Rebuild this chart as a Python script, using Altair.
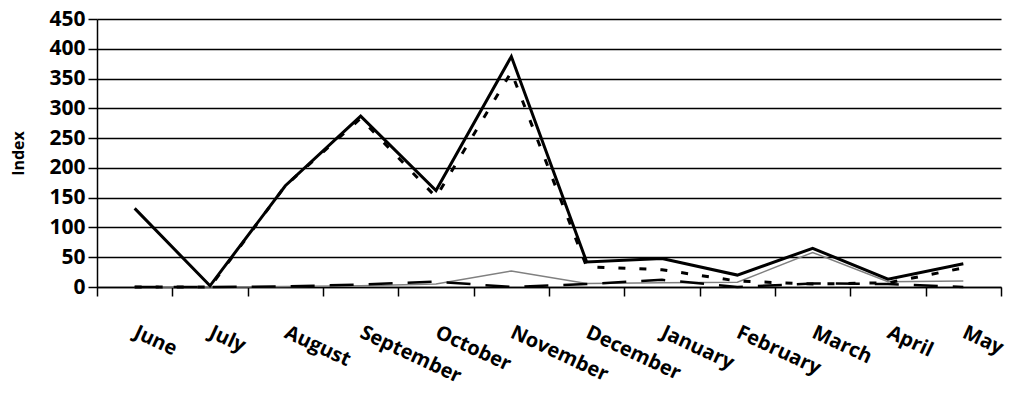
import altair as alt
import pandas as pd

months = ["June", "July", "August", "September", "October", "November",
          "December", "January", "February", "March", "April", "May"]

solid_vals = [132, 2, 170, 287, 162, 387, 42, 48, 20, 65, 13, 39]
dotted_vals = [0, 0, 170, 283, 151, 361, 34, 29, 10, 5, 7, 32]
gray_vals = [0, 0, 1, 2, 5, 27, 6, 7, 8, 58, 9, 10]
longdash_vals = [0, 0, 1, 4, 9, 0, 5, 12, 0, 6, 5, 0]

y_ticks = list(range(0, 451, 50))

FONT = "Open Sans"


def x_enc():
    return alt.X(
        "Month:N",
        sort=months,
        bandPosition=0.5,
        scale=alt.Scale(type="band", paddingInner=0, paddingOuter=0),
        axis=alt.Axis(
            title=None,
            labelAngle=25,
            labelAlign="left",
            labelBaseline="middle",
            labelPadding=35,
            labelFont=FONT,
            labelFontSize=20,
            labelFontWeight="bold",
            labelColor="black",
            labelOverlap=False,
            tickSize=9,
            tickColor="black",
            tickWidth=1.5,
            tickBand="extent",
            domainColor="black",
            domainWidth=1.5,
            grid=False,
        ),
    )


def y_enc():
    return alt.Y(
        "Index:Q",
        scale=alt.Scale(domain=[0, 450], nice=False),
        axis=alt.Axis(
            title="Index",
            values=y_ticks,
            titleFont=FONT,
            titleFontSize=16,
            titleFontWeight="bold",
            titleColor="black",
            titleX=-79,
            titleY=134,
            titleAngle=-90,
            titleAlign="center",
            titleBaseline="middle",
            labelFont=FONT,
            labelFontSize=21,
            labelFontWeight="bold",
            labelColor="black",
            labelPadding=3,
            tickSize=9,
            tickColor="black",
            tickWidth=1.5,
            domainColor="black",
            domainWidth=1.5,
            grid=True,
            gridColor="black",
            gridWidth=1.5,
        ),
    )


def layer(vals, color, width, dash=None):
    df = pd.DataFrame({"Month": months, "Index": vals})
    kw = dict(color=color, strokeWidth=width, strokeJoin="miter", strokeCap="butt")
    if dash is not None:
        kw["strokeDash"] = dash
    return alt.Chart(df).mark_line(**kw).encode(x=x_enc(), y=y_enc())


chart = alt.layer(
    layer(gray_vals, "#808080", 1.5),
    layer(longdash_vals, "black", 2.5, [24, 15]),
    layer(dotted_vals, "black", 3, [7, 14]),
    layer(solid_vals, "black", 3),
).properties(
    width=904,
    height=268,
    autosize=alt.AutoSizeParams(type="none"),
    padding={"left": 89, "top": 11, "right": 7, "bottom": 110},
).configure_view(stroke=None)

chart.save("out.html", embed_options={"renderer": "svg", "actions": False})
